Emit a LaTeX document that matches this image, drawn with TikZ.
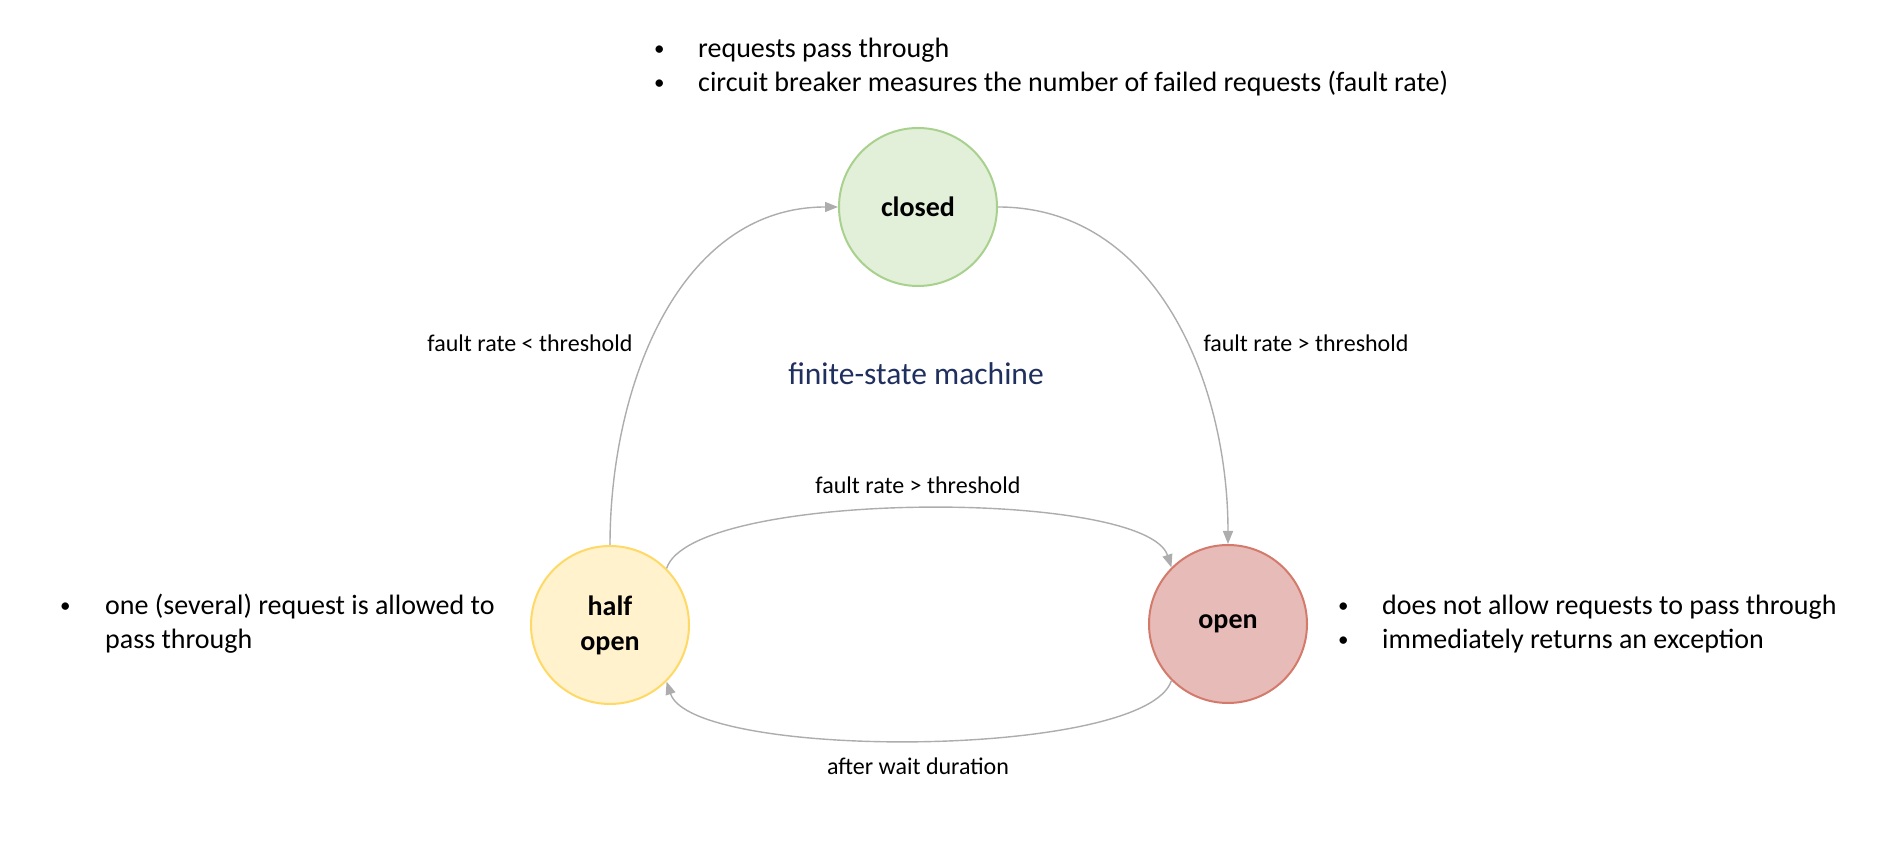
\documentclass[tikz,border=0pt]{standalone}
\usepackage{fontspec}
\setmainfont{Carlito}
\usetikzlibrary{arrows.meta}
\definecolor{arrowgray}{HTML}{ADADAD}
\definecolor{closedfill}{HTML}{E2F0D9}
\definecolor{closeddraw}{HTML}{A9D18E}
\definecolor{halffill}{HTML}{FFF2CC}
\definecolor{halfdraw}{HTML}{FFD966}
\definecolor{openfill}{HTML}{E7BBB7}
\definecolor{opendraw}{HTML}{D47A6C}
\definecolor{navy}{HTML}{1F2F5E}
\newcommand{\smallbullet}{\raisebox{2pt}{\fontsize{21}{21}\selectfont •}}
\begin{document}
\begin{tikzpicture}[x=1pt,y=1pt,
  state/.style={circle, minimum size=158pt, inner sep=0pt, line width=2pt,
    font=\fontsize{28}{35}\selectfont\bfseries, align=center},
  trans/.style={draw=arrowgray, line width=1.4pt, -{Triangle[length=13pt,width=10pt]}},
  lbl/.style={font=\fontsize{24}{29}\selectfont, inner sep=0pt},
  btext/.style={font=\fontsize{28}{34}\selectfont, inner sep=0pt, anchor=west,
    text height=21pt, text depth=7pt},
]
\fill[white] (0,0) rectangle (1877,845);
\useasboundingbox (0,0) rectangle (1877,845);

% states
\node[state, fill=closedfill, draw=closeddraw] (closed) at (918,638) {closed};
\node[state, fill=halffill, draw=halfdraw] (half) at (610,220) {half\\open};
\node[state, fill=openfill, draw=opendraw] (open) at (1228,221) {open};

% transitions
\draw[trans] (half.north) to[out=90,in=180] (closed.west);
\draw[trans] (closed.east) to[out=0,in=90] (open.north);
\draw[trans] (half.45) to[out=72,in=108,looseness=0.42] (open.135);
\draw[trans] (open.225) to[out=-108,in=-72,looseness=0.42] (half.-45);

% labels
\node[lbl] (l1) at (530,502) {fault rate < threshold};
\node[lbl] (l2) at (1306,502) {fault rate > threshold};
\node[lbl] (l3) at (918,360) {fault rate > threshold};
\node[lbl] (l4) at (918,79) {after wait duration};
\node[font=\fontsize{31.5}{38}\selectfont, text=navy, inner sep=0pt] (fsm) at (916,471) {finite-state machine};

% top bullets
\node[btext] (tb1) at (654,794) {\smallbullet};
\node[btext] (tt1) at (698,794) {requests pass through};
\node[btext] (tb2) at (654,760) {\smallbullet};
\node[btext] (tt2) at (698,760) {circuit breaker measures the number of failed requests (fault rate)};

% left bullets
\node[btext] (lb1) at (60,237) {\smallbullet};
\node[btext] (lt1) at (105,237) {one (several) request is allowed to};
\node[btext] (lt2) at (105,203) {pass through};

% right bullets
\node[btext] (rb1) at (1338,237) {\smallbullet};
\node[btext] (rt1) at (1382,237) {does not allow requests to pass through};
\node[btext] (rb2) at (1338,203) {\smallbullet};
\node[btext] (rt2) at (1382,203) {immediately returns an exception};
\end{tikzpicture}
\end{document}
